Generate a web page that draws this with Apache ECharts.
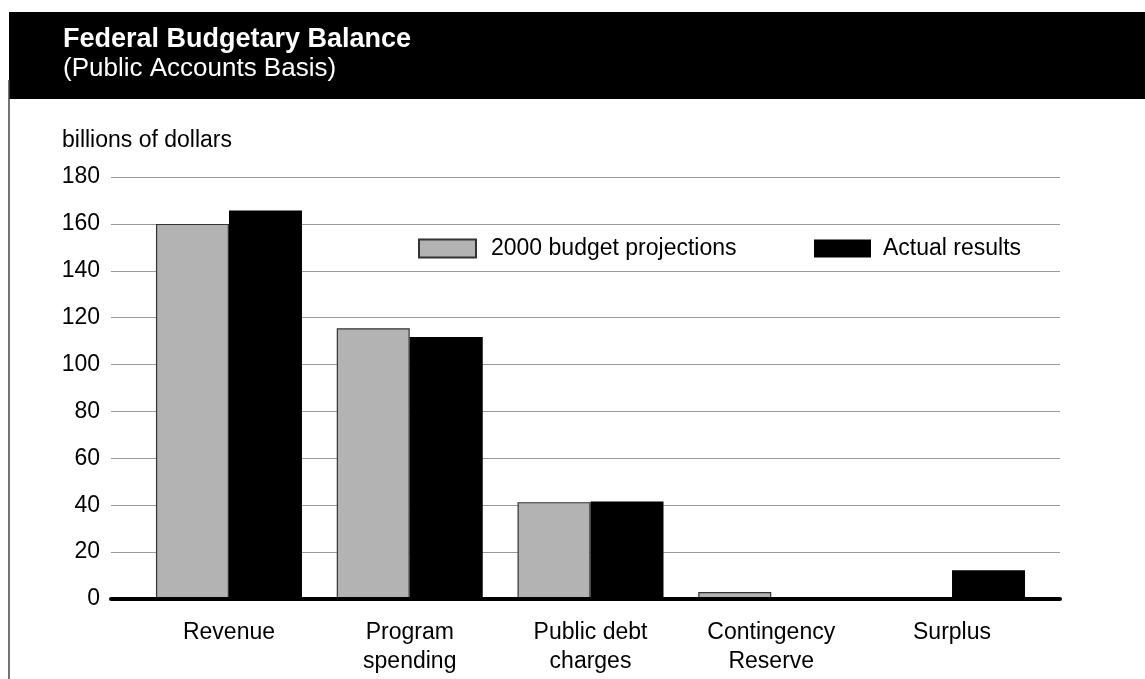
<!DOCTYPE html>
<html>
<head>
<meta charset="utf-8">
<script src="https://cdn.jsdelivr.net/npm/echarts@6/dist/echarts.min.js"></script>
<style>
  html, body { margin: 0; padding: 0; background: #fff; }
  #chart { width: 1145px; height: 679px; }
</style>
</head>
<body>
<div id="chart"></div>
<script>
// 数据
var categories = ['Revenue', 'Program\nspending', 'Public debt\ncharges', 'Contingency\nReserve', 'Surplus'];
var projections = [160, 115.5, 41.3, 3, 0];
var actual = [165.7, 111.8, 41.6, 0, 12.3];
var yTicks = { min: 0, max: 180, interval: 20 };

var FONT = 'Liberation Sans, Arial, Helvetica, sans-serif';

function showBudgetChart(divId) {
	var chart = echarts.init(document.getElementById(divId));
	var option = genBudgetOption();
	if (option && typeof option === 'object') {
		chart.setOption(option, true);
	}
}

function genBudgetOption() {
	var option = {
		animation : false,
		backgroundColor : '#fff',
		textStyle : { fontFamily : FONT },
		title : [ {
			text : 'Federal Budgetary Balance',
			left : 63,
			top : 26,
			padding : 0,
			textStyle : { color : '#fff', fontWeight : 'bold', fontSize : 27, fontFamily : FONT }
		}, {
			text : '(Public Accounts Basis)',
			left : 63,
			top : 56,
			padding : 0,
			textStyle : { color : '#fff', fontWeight : 'normal', fontSize : 26, fontFamily : FONT }
		}, {
			text : 'billions of dollars',
			left : 62,
			top : 129,
			padding : 0,
			textStyle : { color : '#000', fontWeight : 'normal', fontSize : 23, fontFamily : FONT }
		} ],
		graphic : [ {
			type : 'rect',
			z : -1,
			shape : { x : 9, y : 12, width : 1136, height : 87 },
			style : { fill : '#000' }
		}, {
			type : 'line',
			z : -1,
			shape : { x1 : 9, y1 : 80, x2 : 9, y2 : 679 },
			style : { stroke : '#444', lineWidth : 1.5 }
		} ],
		legend : [ {
			data : [ '2000 budget projections' ],
			left : 418,
			top : 237,
			padding : 0,
			itemWidth : 57,
			itemHeight : 18,
			icon : 'rect',
			textStyle : { color : '#000', fontSize : 23, fontFamily : FONT, padding : [ 0, 0, 0, 10 ] }
		}, {
			data : [ 'Actual results' ],
			left : 814,
			top : 237,
			padding : 0,
			itemWidth : 57,
			itemHeight : 18,
			icon : 'rect',
			textStyle : { color : '#000', fontSize : 23, fontFamily : FONT, padding : [ 0, 0, 0, 7 ] }
		} ],
		grid : [ {
			// 刻度与网格线
			left : 111,
			right : 85,
			top : 177,
			bottom : 80
		}, {
			// 柱子
			left : 138.6,
			right : 102.6,
			top : 177,
			bottom : 80
		} ],
		xAxis : [ {
			gridIndex : 0,
			type : 'category',
			data : [ '' ],
			z : 5,
			axisLine : { show : true, lineStyle : { color : '#000', width : 4 } },
			axisTick : { show : false },
			axisLabel : { show : false }
		}, {
			gridIndex : 1,
			type : 'category',
			data : categories,
			axisLine : { show : false },
			axisTick : { show : false },
			axisLabel : {
				color : '#000',
				fontSize : 23,
				lineHeight : 29,
				margin : 19,
				fontFamily : FONT
			}
		} ],
		yAxis : [ {
			gridIndex : 0,
			type : 'value',
			min : yTicks.min,
			max : yTicks.max,
			interval : yTicks.interval,
			axisLine : { show : false },
			axisTick : { show : false },
			axisLabel : { color : '#000', fontSize : 23, margin : 11, fontFamily : FONT },
			splitLine : { lineStyle : { color : '#9a9a9a', width : 1.2 } }
		}, {
			gridIndex : 1,
			type : 'value',
			min : yTicks.min,
			max : yTicks.max,
			interval : yTicks.interval,
			show : false,
			splitLine : { show : false }
		} ],
		series : [ {
			name : '2000 budget projections',
			type : 'bar',
			xAxisIndex : 1,
			yAxisIndex : 1,
			barWidth : 73,
			barGap : '0%',
			itemStyle : { color : '#b3b3b3', borderColor : '#333', borderWidth : 1.2 },
			data : projections
		}, {
			name : 'Actual results',
			type : 'bar',
			xAxisIndex : 1,
			yAxisIndex : 1,
			barWidth : 73,
			barGap : '0%',
			itemStyle : { color : '#000' },
			data : actual
		} ]
	};
	return option;
}

showBudgetChart('chart');
</script>
</body>
</html>
